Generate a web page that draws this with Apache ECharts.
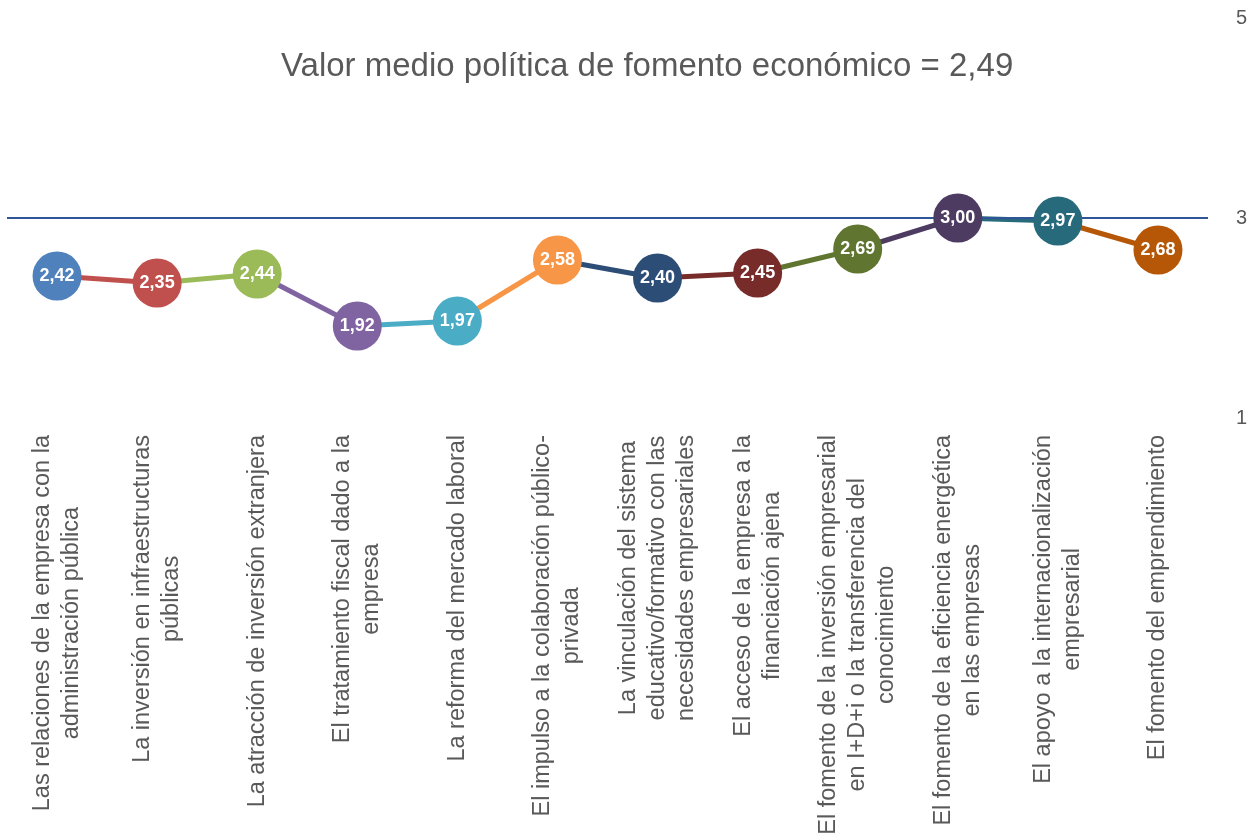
<!DOCTYPE html>
<html>
<head>
<meta charset="utf-8">
<script src="https://cdn.jsdelivr.net/npm/echarts@6/dist/echarts.min.js"></script>
<style>
  html, body { margin: 0; padding: 0; background: #fff; }
  #chart { width: 1255px; height: 839px; }
</style>
</head>
<body>
<div id="chart"></div>
<script>
var titleText = "Valor medio política de fomento económico = 2,49"
var categories = [
  "Las relaciones de la empresa con la\nadministración pública",
  "La inversión en infraestructuras\npúblicas",
  "La atracción de inversión extranjera",
  "El tratamiento fiscal dado a la\nempresa",
  "La reforma del mercado laboral",
  "El impulso a la colaboración público-\nprivada",
  "La vinculación del sistema\neducativo/formativo con las\nnecesidades empresariales",
  "El acceso de la empresa a la\nfinanciación ajena",
  "El fomento de la inversión empresarial\nen I+D+i o la transferencia del\nconocimiento",
  "El fomento de la eficiencia energética\nen las empresas",
  "El apoyo a la internacionalización\nempresarial",
  "El fomento del emprendimiento"
]
var values = [2.42, 2.35, 2.44, 1.92, 1.97, 2.58, 2.40, 2.45, 2.69, 3.00, 2.97, 2.68]
var colors = ["#4F81BD", "#C0504D", "#9BBB59", "#8064A2", "#4BACC6", "#F79646",
              "#2C4D75", "#772C2A", "#5F7530", "#4D3B62", "#276A7C", "#B65708"]
var refValue = 3

var chartDom = document.getElementById("chart")
var myChart = echarts.init(chartDom)

// one series per segment, coloured like the point it ends on
var series = []
for (var i = 1; i < values.length; i++) {
  var seg = values.map(function(v, j){ return (j === i - 1 || j === i) ? v : null })
  series.push({
    type: "line",
    data: seg,
    symbol: "none",
    silent: true,
    lineStyle: { color: colors[i], width: 5 },
    z: 2
  })
}

series.push({
  type: "line",
  data: values,
  symbol: "circle",
  symbolSize: 49,
  lineStyle: { opacity: 0 },
  itemStyle: {
    color: function(p){ return colors[p.dataIndex] }
  },
  label: {
    show: true,
    position: "inside",
    color: "#fff",
    fontWeight: "bold",
    fontSize: 18,
    fontFamily: "Liberation Sans",
    formatter: function(p){ return p.value.toFixed(2).replace(".", ",") }
  },
  markLine: {
    silent: true,
    symbol: "none",
    label: { show: false },
    lineStyle: { color: "#2F5597", width: 2, type: "solid" },
    data: [{ yAxis: refValue }]
  },
  z: 5
})

var option = {
  animation: false,
  title: {
    text: titleText,
    left: 276,
    top: 45,
    textStyle: {
      color: "#595959",
      fontSize: 33,
      fontWeight: "normal",
      fontFamily: "Liberation Sans"
    }
  },
  grid: { left: 7, right: 47, top: 18, bottom: 421, containLabel: false },
  xAxis: {
    type: "category",
    data: categories,
    axisLine: { show: false },
    axisTick: { show: false },
    axisLabel: {
      interval: 0,
      rotate: 90,
      margin: 17,
      color: "#595959",
      fontSize: 23.5,
      fontFamily: "Liberation Sans",
      lineHeight: 29,
      formatter: function(v){
        return v.split("\n").map(function(s){ return "{c|" + s + "}" }).join("\n")
      },
      rich: {
        c: { align: "center", color: "#595959", fontSize: 23.5, lineHeight: 29, fontFamily: "Liberation Sans" }
      }
    }
  },
  yAxis: {
    type: "value",
    position: "right",
    min: 1,
    max: 5,
    interval: 2,
    splitLine: { show: false },
    axisLine: { show: false },
    axisTick: { show: false },
    axisLabel: {
      margin: 28,
      color: "#595959",
      fontSize: 20,
      fontFamily: "Liberation Sans"
    }
  },
  series: series
}
myChart.setOption(option)
</script>
</body>
</html>
